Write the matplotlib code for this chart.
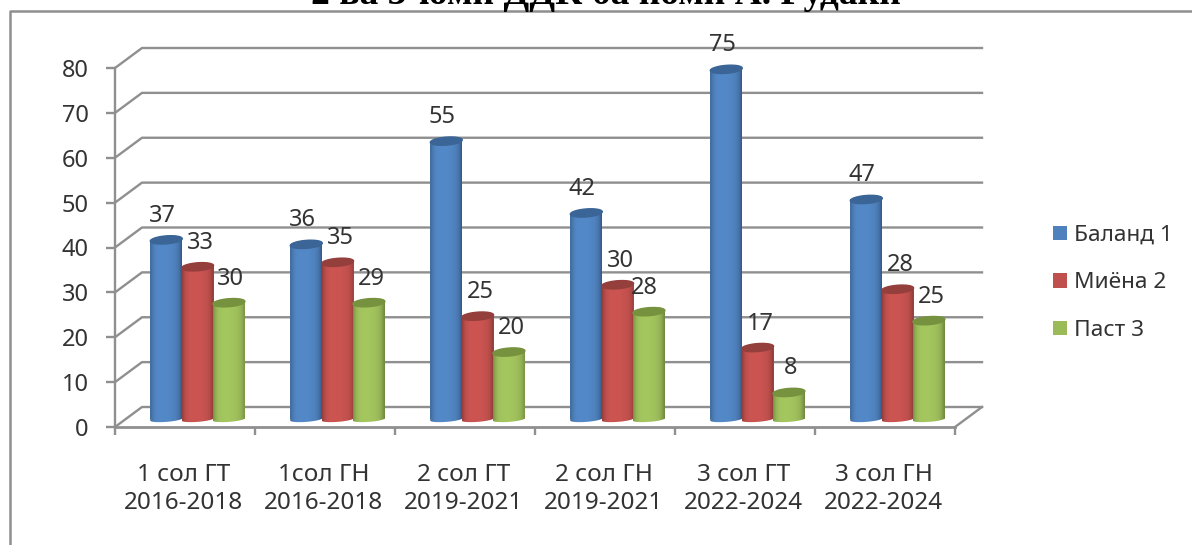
import matplotlib
matplotlib.use("Agg")
import matplotlib.pyplot as plt
import numpy as np
from matplotlib.colors import to_rgb
from matplotlib.lines import Line2D
from matplotlib.patches import Patch, Polygon

categories = ["1 сол ГТ\n2016-2018", "1сол ГН\n2016-2018", "2 сол ГТ\n2019-2021",
              "2 сол ГН\n2019-2021", "3 сол ГТ\n2022-2024", "3 сол ГН\n2022-2024"]
series_names = ["Баланд 1", "Миёна 2", "Паст 3"]

# drawn heights (the printed labels in the source do not match the bars)
high = [40, 39, 62, 46, 78, 49]
mid = [34, 35, 23, 30, 16, 29]
low = [26, 26, 15, 24, 6, 22]

high_labels = [37, 36, 55, 42, 75, 47]
mid_labels = [33, 35, 25, 30, 17, 28]
low_labels = [30, 29, 20, 28, 8, 25]

colors = ["#4f81bd", "#c0504d", "#9bbb59"]
dark_tops = ["#3a6596", "#943f3c", "#76923f"]
grey = "#8f8f8f"
text_col = "#333333"

W, H = 1192, 545
plt.rcParams["font.family"] = ["Noto Sans", "DejaVu Sans"]

fig = plt.figure(figsize=(W / 100, H / 100), dpi=100)
ax = fig.add_axes([115 / W, 1 - 427 / H, 840 / W, 359 / H])
ax.set_xlim(0, 6)
ax.set_ylim(0, 80)

# data units per pixel, the chart is a flat fake of a 3d box
px_x = 6 / 840
px_y = 80 / 359
depth_x = 27 * px_x
depth_y = 20 * px_y

for v in range(0, 90, 10):
    ax.plot([0, depth_x, 6 + depth_x], [v, v + depth_y, v + depth_y],
            color=grey, lw=1.7, clip_on=False, zorder=1)
ax.plot([6, 6 + depth_x], [0, depth_y], color=grey, lw=1.7, clip_on=False, zorder=1)
ax.plot([0, 6], [0, 0], color=grey, lw=2, clip_on=False, zorder=1)

for s in ["top", "right", "bottom"]:
    ax.spines[s].set_visible(False)
ax.spines["left"].set_color(grey)
ax.spines["left"].set_linewidth(1.7)

ax.set_yticks(range(0, 90, 10))
ax.set_xticks(range(0, 7))
ax.set_xticklabels([])
ax.tick_params(axis="y", length=6.5, width=1.7, color=grey, labelsize=17,
               labelcolor=text_col, pad=12.5)
ax.tick_params(axis="x", length=6, width=1.7, color=grey)
for i, cat in enumerate(categories):
    ax.text(i + 0.5 - 1.5 * px_x, -8, cat, ha="center", va="top", fontsize=17.5,
            color=text_col, linespacing=1.25)

bar_w = 32 * px_x
bar_gap = 31.3 * px_x
base = 1.7
group_shift = 0.59
cap_h = 4 * px_y
foot_h = 2.5 * px_y
cap_tilt = 1.2 * px_y
label_rise = 24 * px_y
label_dx = [-4 * px_x, 3 * px_x, 2 * px_x]
# the one label the source pushed sideways, over the red bar
label_nudge = {(2, 3): -7 * px_x}


def cap_arc(cx, y, height, start, stop):
    t = np.linspace(start, stop, 40)
    return cx + bar_w / 2 * np.cos(t), y + height * np.sin(t) + cap_tilt * np.cos(t)


t_across = np.linspace(-1, 1, 80)
shade = 1.06 - 0.3 * np.abs(t_across) ** 5 - 0.08 * np.clip(t_across, 0, 1)

for j, (vals, labs) in enumerate(zip([high, mid, low], [high_labels, mid_labels, low_labels])):
    for i, (v, lab) in enumerate(zip(vals, labs)):
        cx = i + group_shift + (j - 1) * bar_gap
        top = base + v
        ax.bar(cx, v, bar_w, bottom=base, color=colors[j], zorder=3 + j, clip_on=False)

        # body outline: lower arc of the foot, then up to the top cap
        xs, ys = cap_arc(cx, base, foot_h, np.pi, 2 * np.pi)
        xt, yt = cap_arc(cx, top, cap_h, 0, np.pi)
        body = Polygon(np.column_stack([np.r_[xs, xt], np.r_[ys, yt]]), closed=True,
                       facecolor="none", edgecolor="none", transform=ax.transData)
        ax.add_patch(body)

        rgb = np.array(to_rgb(colors[j]))
        img = np.clip(rgb[None, None, :] * shade[None, :, None], 0, 1)
        im = ax.imshow(img, extent=[cx - bar_w / 2, cx + bar_w / 2, base - 2 * cap_h, top + 2 * cap_h],
                       aspect="auto", zorder=3.1 + j, interpolation="bilinear")
        im.set_clip_path(body)

        # top cap
        xc, yc = cap_arc(cx, top, cap_h, 0, 2 * np.pi)
        ax.fill(xc, yc, color=dark_tops[j], zorder=3.2 + j, clip_on=False)

        ax.text(cx + label_dx[j] + label_nudge.get((j, i), 0), top + label_rise, str(lab),
                ha="center", va="center", fontsize=17, color=text_col, zorder=9, clip_on=False)

ax.set_xlim(0, 6)
ax.set_ylim(0, 80)

handles = [Patch(facecolor=c) for c in colors]
fig.legend(handles, series_names, loc="center left", bbox_to_anchor=(1053 / W, 1 - 283 / H),
           frameon=False, fontsize=16.3, labelcolor=text_col, handlelength=0.62, handleheight=0.62,
           handletextpad=0.32, labelspacing=1.17, borderpad=0, borderaxespad=0)

fig.text(606 / W, 1 - 4 / H, "2 ва 3-юми ДДК ба номи А. Рудаки", ha="center", va="baseline",
         fontsize=27, fontweight="bold", family="Liberation Serif", color="black")

# chart frame, runs off the top right of the crop
fig.add_artist(Line2D([9.5 / W, 9.5 / W, 1], [0, 1 - 11 / H, 1 - 11 / H], color=grey, lw=1.8))

fig.savefig("out.png", dpi=100)
